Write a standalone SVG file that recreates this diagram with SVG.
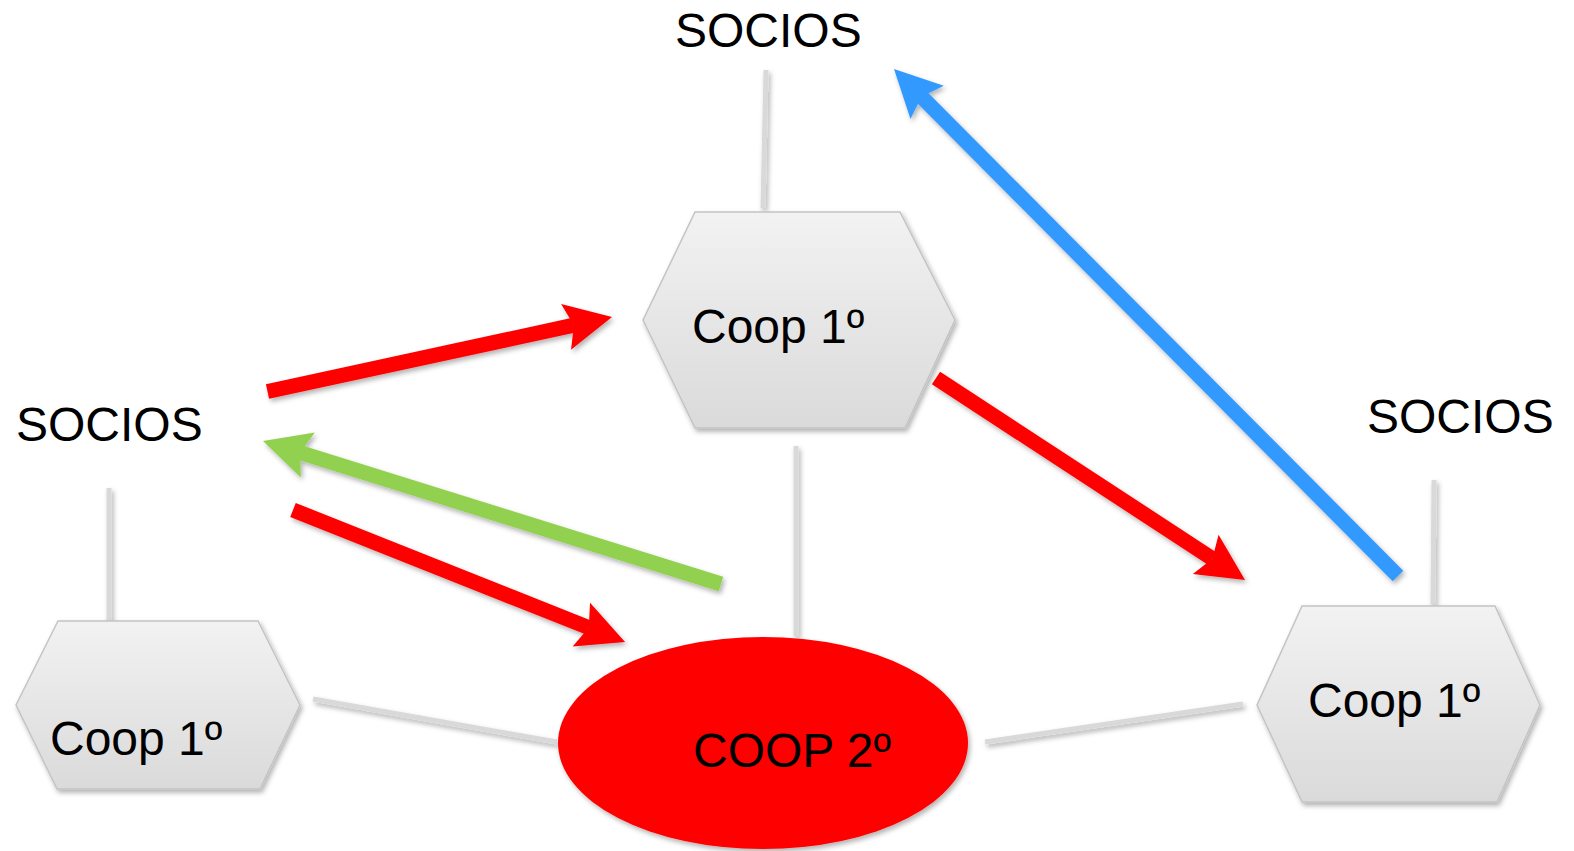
<svg xmlns="http://www.w3.org/2000/svg" width="1574" height="851" viewBox="0 0 1574 851">
<defs>
<linearGradient id="hexGrad" x1="0" y1="0" x2="0" y2="1">
<stop offset="0" stop-color="#f2f2f2"/>
<stop offset="1" stop-color="#dadada"/>
</linearGradient>
<filter id="shadow" x="-20%" y="-20%" width="140%" height="140%">
<feDropShadow dx="2" dy="3" stdDeviation="2.5" flood-color="#000" flood-opacity="0.3"/>
</filter>
<marker id="headRed" markerUnits="userSpaceOnUse" markerWidth="60" markerHeight="60" refX="8" refY="0" viewBox="0 -30 60 60" orient="auto" overflow="visible">
<path d="M0,-23.5 L47,0 L0,23.5 L8,0 Z" fill="#ff0000"/>
</marker>
<marker id="headGreen" markerUnits="userSpaceOnUse" markerWidth="60" markerHeight="60" refX="8" refY="0" viewBox="0 -30 60 60" orient="auto" overflow="visible">
<path d="M0,-23.5 L47,0 L0,23.5 L8,0 Z" fill="#92d050"/>
</marker>
<marker id="headBlue" markerUnits="userSpaceOnUse" markerWidth="60" markerHeight="60" refX="8" refY="0" viewBox="0 -30 60 60" orient="auto" overflow="visible">
<path d="M0,-23.5 L47,0 L0,23.5 L8,0 Z" fill="#3399ff"/>
</marker>
</defs>
<style>
text { font-family: "Liberation Sans", Arial, sans-serif; font-size: 48px; fill: #000; }
.hex { fill: url(#hexGrad); stroke: #c4c4c4; stroke-width: 1.5; filter: url(#shadow); }
.link { stroke: #d9d9d9; stroke-width: 5; fill: none; }
.arrow { stroke-width: 15; fill: none; }
.red { stroke: #ff0000; marker-end: url(#headRed); }
.green { stroke: #92d050; marker-end: url(#headGreen); }
.blue { stroke: #3399ff; marker-end: url(#headBlue); }
</style>
<rect width="1574" height="851" fill="#ffffff"/>
<g id="connectors" filter="url(#shadow)">
<line class="link" x1="766" y1="70" x2="763" y2="208"/>
<line class="link" x1="109" y1="488" x2="109" y2="622"/>
<line class="link" x1="1434" y1="480" x2="1433" y2="604"/>
<line class="link" x1="796" y1="446" x2="796" y2="636"/>
<line class="link" x1="313" y1="699" x2="557" y2="742"/>
<line class="link" x1="985" y1="742" x2="1243" y2="704"/>
<line class="arrow red" x1="267.5" y1="391.5" x2="573.9" y2="325.2"/>
<line class="arrow green" x1="721" y1="584" x2="300.2" y2="452.6"/>
<line class="arrow red" x1="293" y1="510" x2="588.8" y2="627.6"/>
<line class="arrow red" x1="936" y1="378" x2="1212.4" y2="558.7"/>
<line class="arrow blue" x1="1398" y1="576" x2="921.5" y2="96.7"/>
</g>
<g id="socios-top"><text x="675" y="47">SOCIOS</text></g>
<g id="socios-left"><text x="16" y="441">SOCIOS</text></g>
<g id="socios-right"><text x="1367" y="433">SOCIOS</text></g>
<g id="coop1-top">
<polygon class="hex" points="695,212 900,212 955,320 905,428 695,428 643,320"/>
<text x="692" y="343">Coop 1º</text>
</g>
<g id="coop1-left">
<polygon class="hex" points="58,621 258,621 300,705 260,789 57,789 16,705"/>
<text x="50" y="755">Coop 1º</text>
</g>
<g id="coop1-right">
<polygon class="hex" points="1302,606 1495,606 1540,705 1497,802 1302,802 1257,705"/>
<text x="1308" y="717">Coop 1º</text>
</g>
<g id="coop2">
<ellipse cx="763" cy="743" rx="205" ry="106" fill="#ff0000" filter="url(#shadow)"/>
<text x="693" y="767">COOP 2º</text>
</g>
</svg>
